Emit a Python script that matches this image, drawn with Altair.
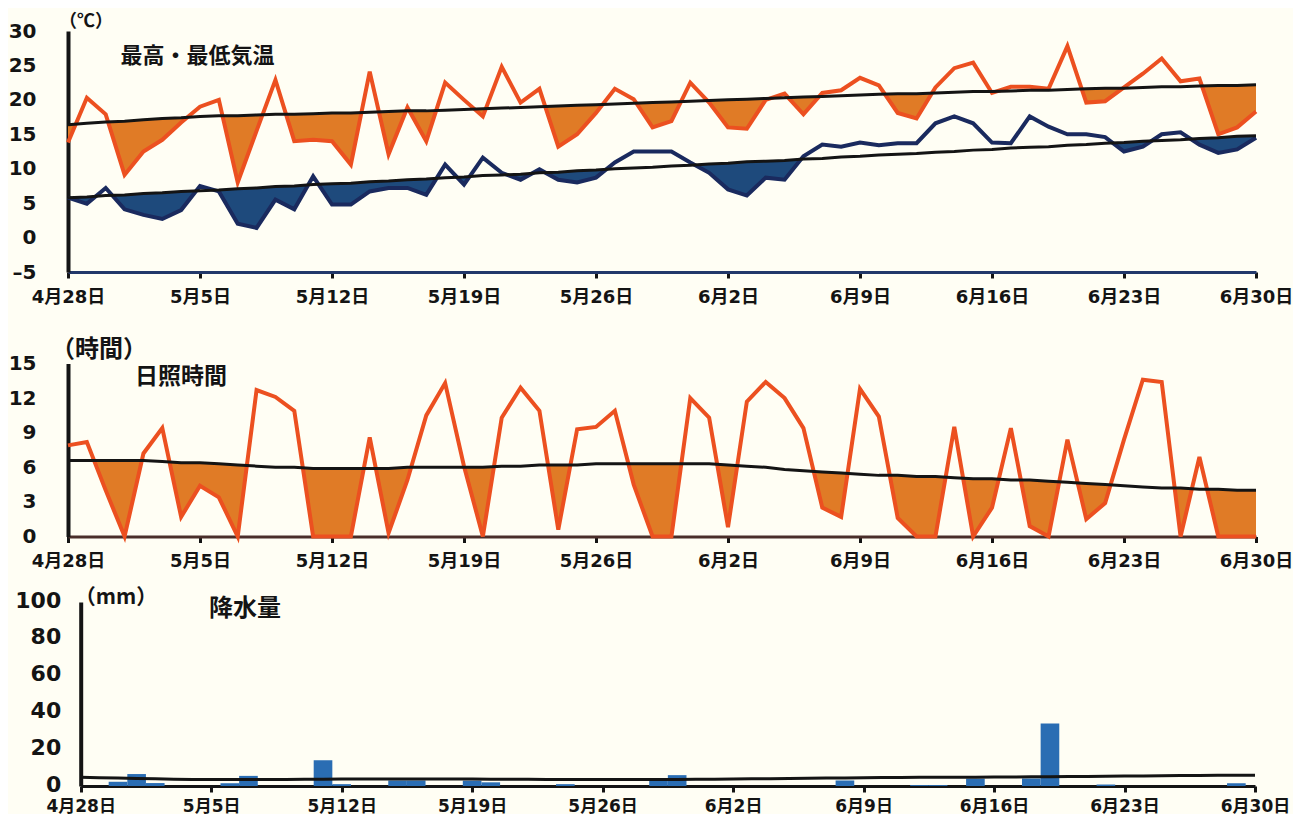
import altair as alt
import pandas as pd

days = list(range(64))
tick_days = [0, 7, 14, 21, 28, 35, 42, 49, 56, 63]
tick_labels = ["4月28日", "5月5日", "5月12日", "5月19日", "5月26日",
               "6月2日", "6月9日", "6月16日", "6月23日", "6月30日"]
panel_titles = ["最高・最低気温", "日照時間", "降水量"]
unit_titles = ["（℃）", "（時間）", "（mm）"]

tmax = [13.8, 20.3, 17.9, 9.1, 12.5, 14.2, 16.7, 19.0, 20.0, 8.0,
        15.5, 22.9, 14.0, 14.2, 14.0, 10.6, 24.1, 12.1, 18.9, 14.0,
        22.5, 20.0, 17.6, 24.8, 19.6, 21.6, 13.2, 15.0, 18.1, 21.6,
        20.1, 16.0, 16.9, 22.5, 19.6, 16.0, 15.8, 20.0, 20.9, 17.9,
        21.0, 21.4, 23.2, 22.1, 18.1, 17.3, 21.8, 24.6, 25.4, 21.0,
        21.9, 21.9, 21.6, 27.8, 19.6, 19.8, 21.8, 23.8, 26.0, 22.7,
        23.1, 15.0, 16.0, 18.3]
tmax_normal = [16.4, 16.6, 16.8, 16.9, 17.1, 17.3, 17.4, 17.6,
               17.7, 17.7, 17.8, 17.9, 17.9, 18.0, 18.1, 18.1, 18.2, 18.3, 18.4, 18.4, 18.5,
               18.6, 18.7, 18.8, 18.9, 19.0, 19.1, 19.2, 19.3, 19.4, 19.5, 19.6,
               19.7, 19.8, 19.9, 20.0, 20.1, 20.2, 20.3, 20.4, 20.5, 20.6, 20.7, 20.8,
               20.9, 20.9, 21.0, 21.1, 21.2, 21.2, 21.3, 21.4, 21.4, 21.5,
               21.6, 21.7, 21.7, 21.8, 21.9, 21.9, 22.0, 22.1, 22.1, 22.2]
tmin = [5.8, 4.9, 7.2, 4.1, 3.3, 2.7, 4.0, 7.5, 6.7, 2.0,
        1.4, 5.5, 4.1, 8.9, 4.8, 4.8, 6.7, 7.2, 7.2, 6.2,
        10.6, 7.7, 11.6, 9.4, 8.4, 9.9, 8.4, 8.0, 8.7, 10.9,
        12.5, 12.5, 12.5, 10.9, 9.4, 7.0, 6.1, 8.7, 8.4, 11.8,
        13.5, 13.2, 13.8, 13.4, 13.7, 13.7, 16.6, 17.6, 16.6, 13.8,
        13.7, 17.6, 16.1, 15.0, 15.0, 14.6, 12.5, 13.2, 15.0, 15.3,
        13.5, 12.3, 12.8, 14.5]
tmin_normal = [5.8, 5.9, 6.1, 6.2, 6.4, 6.5, 6.7, 6.8, 6.9, 7.1,
               7.2, 7.4, 7.5, 7.7, 7.8, 7.9, 8.1, 8.2, 8.4, 8.5,
               8.7, 8.8, 9.0, 9.1, 9.2, 9.4, 9.5, 9.7, 9.8, 10.0,
               10.1, 10.2, 10.4, 10.5, 10.7, 10.8, 11.0, 11.1, 11.2, 11.4,
               11.5, 11.7, 11.8, 12.0, 12.1, 12.2, 12.4, 12.5, 12.7, 12.8,
               13.0, 13.1, 13.2, 13.4, 13.5, 13.7, 13.8, 14.0, 14.1, 14.2,
               14.4, 14.5, 14.7, 14.8]
sun = [7.9, 8.2, 4.0, 0.0, 7.2, 9.4, 1.7, 4.4, 3.4, 0.0,
       12.7, 12.1, 10.9, 0.0, 0.0, 0.0, 8.6, 0.3, 4.9, 10.5,
       13.3, 6.1, 0.0, 10.3, 12.9, 10.9, 0.6, 9.3, 9.5, 10.9,
       4.5, 0.0, 0.0, 12.0, 10.3, 0.8, 11.7, 13.4, 12.0, 9.4,
       2.5, 1.7, 12.8, 10.4, 1.6, 0.0, 0.0, 9.5, 0.0, 2.5,
       9.4, 0.9, 0.0, 8.4, 1.5, 2.9, 8.4, 13.6, 13.4, 0.0,
       6.9, 0.0, 0.0, 0.0]
sun_normal = [6.6, 6.6, 6.6, 6.6, 6.6, 6.5, 6.4, 6.4, 6.3, 6.2,
              6.1, 6.0, 6.0, 5.9, 5.9, 5.9, 5.9, 5.9, 6.0, 6.0,
              6.0, 6.0, 6.0, 6.1, 6.1, 6.2, 6.2, 6.2, 6.3, 6.3,
              6.3, 6.3, 6.3, 6.3, 6.3, 6.2, 6.1, 6.0, 5.8, 5.7,
              5.6, 5.5, 5.4, 5.3, 5.3, 5.2, 5.2, 5.1, 5.0, 5.0,
              4.9, 4.9, 4.8, 4.7, 4.6, 4.5, 4.4, 4.3, 4.2, 4.2,
              4.1, 4.1, 4.0, 4.0]
rain = [0, 0, 2.3, 6.5, 1.6, 0, 0, 0, 1.5, 5.5,
        0, 0, 0, 14.0, 1.0, 0, 0, 3.0, 3.0, 0,
        0, 2.9, 2.0, 0, 0, 0, 1.0, 0, 0, 0,
        0, 2.9, 5.9, 0, 0, 0, 0, 0, 0, 0,
        0, 3.0, 0, 0, 0, 0.5, 0.5, 0, 4.0, 0,
        0, 4.1, 34.0, 0, 0, 0.8, 0, 0, 0, 0,
        0, 0, 1.5, 0]
rain_normal = [4.7, 4.5, 4.3, 4.1, 3.9, 3.7, 3.6, 3.5, 3.5, 3.5,
               3.6, 3.6, 3.7, 3.7, 3.8, 3.8, 3.8, 3.8, 3.8, 3.8,
               3.8, 3.8, 3.7, 3.7, 3.7, 3.6, 3.6, 3.6, 3.6, 3.6,
               3.6, 3.6, 3.6, 3.7, 3.7, 3.8, 3.9, 4.0, 4.1, 4.2,
               4.3, 4.4, 4.5, 4.6, 4.6, 4.7, 4.7, 4.8, 4.8, 4.9,
               4.9, 5.0, 5.0, 5.1, 5.2, 5.3, 5.4, 5.5, 5.6, 5.7,
               5.7, 5.8, 5.8, 5.9]


def below_fill(vals, norms):
    """Polygon of the part where the value is below normal (crossing points added)."""
    rows = []
    for i in range(len(vals)):
        a, n = vals[i], norms[i]
        rows.append((days[i], min(a, n), n))
        if i + 1 < len(vals):
            d0 = a - n
            d1 = vals[i + 1] - norms[i + 1]
            if d0 * d1 < 0:
                t = d0 / (d0 - d1)
                nx = n + t * (norms[i + 1] - n)
                rows.append((days[i] + t, nx, nx))
    return pd.DataFrame(rows, columns=["day", "low", "normal"])


temp_df = pd.DataFrame({"day": days, "tmax": tmax, "tmin": tmin,
                        "nmax": tmax_normal, "nmin": tmin_normal})
sun_df = pd.DataFrame({"day": days, "sun": sun, "normal": sun_normal})
rain_df = pd.DataFrame({"day": days, "rain": rain, "normal": rain_normal})
maxfill = below_fill(tmax, tmax_normal)
minfill = below_fill(tmin, tmin_normal)
sunfill = below_fill(sun, sun_normal)

label_expr = "[" + ",".join("'%s'" % s for s in tick_labels) + "][round(datum.value / 7)]"
ylabel_expr = "datum.value < 0 ? '\u2013' + abs(datum.value) : datum.label"

ORANGE_LINE = "#EC5020"
ORANGE_FILL = "#E07B26"
NAVY_LINE = "#1A2A5E"
NAVY_FILL = "#1E4A7C"
BAR = "#2A6DB3"
INK = "#141414"
LABEL_FONT = "DejaVu Sans, Noto Sans CJK JP"
CJK = "Noto Sans CJK JP"
W = 1188


def xaxis(dcolor, lpad, lfs=18):
    return alt.Axis(values=tick_days, labelExpr=label_expr, title=None, grid=False,
                    tickSize=6, tickWidth=3, tickColor=INK, domainWidth=3,
                    domainColor=dcolor, labelFont=LABEL_FONT, labelFontSize=lfs,
                    labelFontWeight="bold", labelColor=INK, labelPadding=lpad,
                    labelOverlap=False, labelFlush=False)


def yaxis(values, lfs, lpad, offset=0, loff=0):
    return alt.Axis(values=values, title=None, labelExpr=ylabel_expr,
                    labelFont="DejaVu Sans", labelFontSize=lfs, labelFontWeight="bold",
                    labelColor=INK, labelPadding=lpad, ticks=False, grid=False,
                    domainWidth=4, domainColor=INK, labelOverlap=False, offset=offset,
                    labelOffset=loff)


def text_layer(txt, x, y, size, opacity=1.0):
    return alt.Chart(pd.DataFrame({"t": [txt]})).mark_text(
        font=CJK, fontSize=size, fontWeight="bold", color=INK, opacity=opacity,
        align="center", baseline="middle").encode(
        x=alt.value(x), y=alt.value(y), text="t:N")


xscale = alt.Scale(domain=[0, 63], nice=False, zero=False)

# ---------- temperature panel ----------
ax_x1 = xaxis("#22386A", 10)
ax_y1 = yaxis([-5, 0, 5, 10, 15, 20, 25, 30], 20, 32)
ys1 = alt.Scale(domain=[-5, 30], nice=False, zero=False)

def X1(field="day"):
    return alt.X(field + ":Q", scale=xscale, axis=ax_x1)

def Y1(field):
    return alt.Y(field + ":Q", scale=ys1, axis=ax_y1)

t_fill_max = alt.Chart(maxfill).mark_area(color=ORANGE_FILL, opacity=1).encode(
    x=X1(), y=Y1("low"), y2="normal:Q")
t_fill_min = alt.Chart(minfill).mark_area(color=NAVY_FILL, opacity=1).encode(
    x=X1(), y=Y1("low"), y2="normal:Q")
base_t = alt.Chart(temp_df)
t_max = base_t.mark_line(color=ORANGE_LINE, strokeWidth=4).encode(x=X1(), y=Y1("tmax"))
t_min = base_t.mark_line(color=NAVY_LINE, strokeWidth=4).encode(x=X1(), y=Y1("tmin"))
t_nmax = base_t.mark_line(color=INK, strokeWidth=3).encode(x=X1(), y=Y1("nmax"))
t_nmin = base_t.mark_line(color=INK, strokeWidth=3).encode(x=X1(), y=Y1("nmin"))
top = alt.layer(t_fill_max, t_fill_min, t_max, t_min, t_nmax, t_nmin,
                text_layer(panel_titles[0], 129.5, 25, 22),
                text_layer(unit_titles[0], 18, -9, 18)).properties(width=W, height=241)

# ---------- sunshine panel ----------
ax_x2 = xaxis("#4A2E2A", 10)
ax_y2 = yaxis([0, 3, 6, 9, 12, 15], 20, 32)
ys2 = alt.Scale(domain=[0, 15], nice=False, zero=False)

def X2(field="day"):
    return alt.X(field + ":Q", scale=xscale, axis=ax_x2)

def Y2(field):
    return alt.Y(field + ":Q", scale=ys2, axis=ax_y2)

s_fill = alt.Chart(sunfill).mark_area(color=ORANGE_FILL, opacity=1).encode(
    x=X2(), y=Y2("low"), y2="normal:Q")
base_s = alt.Chart(sun_df)
s_line = base_s.mark_line(color=ORANGE_LINE, strokeWidth=4).encode(x=X2(), y=Y2("sun"))
s_norm = base_s.mark_line(color=INK, strokeWidth=3).encode(x=X2(), y=Y2("normal"))
mid = alt.layer(s_fill, s_line, s_norm,
                text_layer(panel_titles[1], 113, 13.5, 23),
                text_layer(unit_titles[1], 31, -14, 24),
                text_layer(unit_titles[1], 31, -30.5, 20, opacity=0.0)  # spacing keeper
                ).properties(width=W, height=173)

# ---------- precipitation panel ----------
SHIFT = 12.7
xscale3 = alt.Scale(domain=[0, 63], range=[SHIFT, W - 1], nice=False, zero=False)
ax_x3 = xaxis(INK, 6, 17)
ax_y3 = yaxis([0, 20, 40, 60, 80, 100], 22, 20, offset=-SHIFT, loff=-2)
ys3 = alt.Scale(domain=[0, 100], nice=False, zero=True)

def X3(field="day"):
    return alt.X(field + ":Q", scale=xscale3, axis=ax_x3)

def Y3(field):
    return alt.Y(field + ":Q", scale=ys3, axis=ax_y3)

base_r = alt.Chart(rain_df)
r_bars = base_r.transform_filter("datum.rain > 0").transform_calculate(
    x0="datum.day - 0.5", x1="datum.day + 0.5", zero="0").mark_bar(
    color=BAR, opacity=1).encode(x=X3("x0"), x2="x1:Q", y=Y3("rain"), y2="zero:Q")
r_norm = base_r.mark_line(color=INK, strokeWidth=3).encode(x=X3(), y=Y3("normal"))
bot = alt.layer(r_bars, r_norm,
                text_layer(panel_titles[2], 177, 7, 24),
                text_layer(unit_titles[2], 48, -4, 21)).properties(width=W, height=184)

chart = alt.concat(top, mid, bot, columns=1, spacing=16.5).configure(
    background="#FFFEF4",
    padding={"left": 0, "top": 5, "right": 0, "bottom": 0},
    font=CJK,
).configure_view(strokeWidth=0)

chart.save("out.html", embed_options={"renderer": "svg", "actions": False})
